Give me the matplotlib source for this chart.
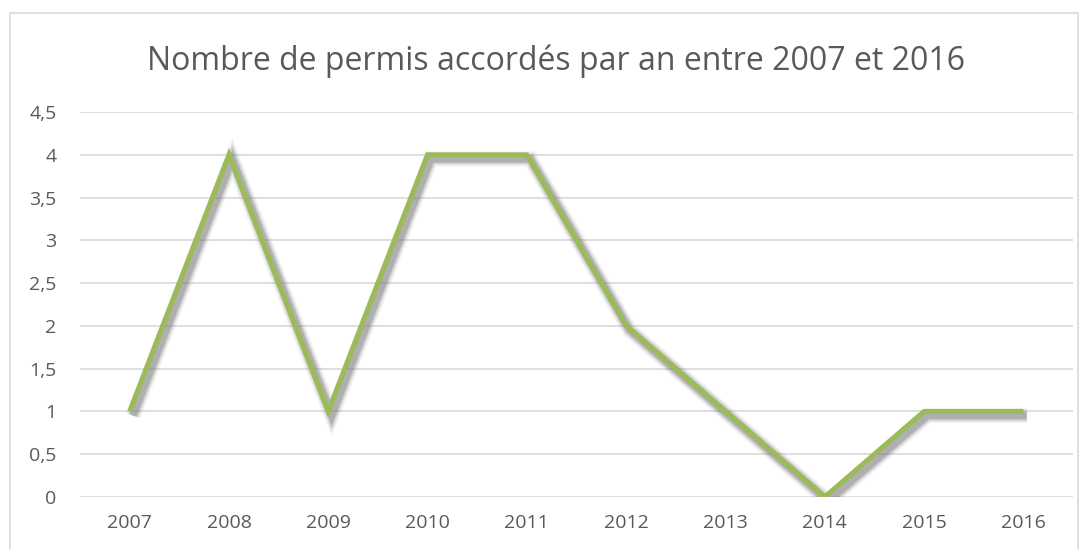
import matplotlib.pyplot as plt
import matplotlib.patheffects as pe
from matplotlib.patches import Rectangle

years = ["2007", "2008", "2009", "2010", "2011", "2012", "2013", "2014", "2015", "2016"]
permis = [1, 4, 1, 4, 4, 2, 1, 0, 1, 1]
yticks = [0, 0.5, 1, 1.5, 2, 2.5, 3, 3.5, 4, 4.5]

plt.rcParams["font.family"] = ["Open Sans", "DejaVu Sans"]
grey = "#595959"

fig = plt.figure(figsize=(10.88, 5.49), dpi=100)
W, H = 1088, 549
ax = fig.add_axes([80 / W, 1 - 497 / H, (1073 - 80) / W, (497 - 112) / H])

fig.patches.append(Rectangle((10 / W, -0.05), (1078 - 10) / W, 1.05 - 13 / H,
                             transform=fig.transFigure, fill=False,
                             edgecolor="#d9d9d9", linewidth=1.2))

x = range(len(years))
# soft shadow: stacked wide translucent strokes, offset down-right
shadow = [pe.SimpleLineShadow(offset=(2.5, -3), shadow_color="#6f6f6f", alpha=a, linewidth=w)
          for w, a in [(11, 0.07), (9, 0.12), (7, 0.2), (5, 0.3)]]
shadow.append(pe.Normal())
ax.plot(x, permis, color="#9bbb59", linewidth=3.6, solid_joinstyle="miter",
        solid_capstyle="butt", path_effects=shadow, zorder=3)

ax.set_xlim(-0.5, len(years) - 0.5)
ax.set_ylim(0, 4.5)
ax.set_xticks(list(x), labels=years)
ax.set_yticks(yticks, labels=[f"{v:g}".replace(".", ",") for v in yticks])
ax.tick_params(length=0, labelsize=14, labelcolor=grey)
ax.tick_params(axis="x", pad=12)
ax.tick_params(axis="y", pad=17)
ax.grid(axis="y", color="#d9d9d9", linewidth=1.2)
ax.set_axisbelow(True)
for s in ax.spines.values():
    s.set_visible(False)

fig.text(556 / W, 1 - 70 / H, "Nombre de permis accordés par an entre 2007 et 2016",
         ha="center", va="baseline", fontsize=23, color=grey)

fig.savefig("out.png", dpi=100)
